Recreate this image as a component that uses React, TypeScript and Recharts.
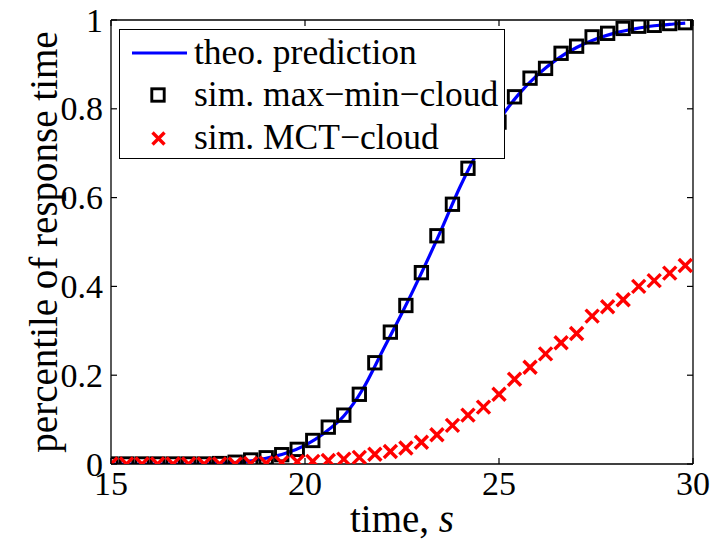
import React from 'react';
import { ComposedChart, Line, Scatter, XAxis, YAxis, Legend } from 'recharts';

const FONT = '"Liberation Serif", "Times New Roman", Times, serif';
const TICK_FS = 34;
const LABEL_FS = 39;
const LEG_FS = 35.5;

const tSim = [15, 15.4, 15.8, 16.2, 16.6, 17, 17.4, 17.8, 18.2, 18.6, 19, 19.4, 19.8, 20.2, 20.6, 21, 21.4, 21.8, 22.2, 22.6, 23, 23.4, 23.8, 24.2, 24.6, 25, 25.4, 25.8, 26.2, 26.6, 27, 27.4, 27.8, 28.2, 28.6, 29, 29.4, 29.8];
const maxMinCloud = [0, 0, 0, 0, 0, 0, 0, 0.001, 0.004, 0.009, 0.014, 0.021, 0.033, 0.053, 0.083, 0.11, 0.157, 0.228, 0.297, 0.357, 0.431, 0.514, 0.585, 0.666, 0.72, 0.77, 0.827, 0.869, 0.891, 0.925, 0.941, 0.962, 0.97, 0.981, 0.986, 0.988, 0.992, 0.994];
const mctCloud = [0, 0, 0, 0, 0, 0, 0, 0, 0, 0.001, 0.002, 0.003, 0.005, 0.006, 0.008, 0.011, 0.015, 0.022, 0.028, 0.036, 0.049, 0.066, 0.087, 0.11, 0.128, 0.157, 0.191, 0.218, 0.248, 0.273, 0.294, 0.333, 0.354, 0.37, 0.4, 0.413, 0.43, 0.447];

const tTheo = [15, 15.5, 16, 16.5, 17, 17.5, 18, 18.5, 19, 19.5, 20, 20.5, 21, 21.5, 22, 22.5, 23, 23.5, 24, 24.5, 25, 25.5, 26, 26.5, 27, 27.5, 28, 28.5, 29, 29.5, 29.8];
const theoPrediction = [0, 0, 0, 0, 0, 0.0005, 0.002, 0.006, 0.013, 0.024, 0.042, 0.07, 0.108, 0.17, 0.255, 0.34, 0.43, 0.525, 0.625, 0.71, 0.775, 0.832, 0.877, 0.912, 0.938, 0.957, 0.971, 0.98, 0.987, 0.991, 0.993];

const xTicks = [15, 20, 25, 30];
const yTicks = [0, 0.2, 0.4, 0.6, 0.8, 1];

const seriesNames = ['theo. prediction', 'sim. max\u2212min\u2212cloud', 'sim. MCT\u2212cloud'];

const theoData = tTheo.map((t, i) => ({ t, p: theoPrediction[i] }));
const maxMinData = tSim.map((t, i) => ({ t, p: maxMinCloud[i] }));
const mctData = tSim.map((t, i) => ({ t, p: mctCloud[i] }));

const AXIS_STROKE = { stroke: '#000', strokeWidth: 1.3 };
const textStyle = (size: number): React.CSSProperties => ({ fontFamily: FONT, fontSize: size });

const BottomTick = (props: any) => {
  const { x, y, payload } = props;
  return (
    <g>
      <line x1={x} y1={y} x2={x} y2={y - 6} stroke="#000" strokeWidth={1.2} />
      <text x={x} y={y + 31} textAnchor="middle" style={textStyle(TICK_FS)} fill="#000">
        {String(payload.value)}
      </text>
    </g>
  );
};

const TopTick = (props: any) => {
  const { x, y } = props;
  return <line x1={x} y1={y} x2={x} y2={y + 6} stroke="#000" strokeWidth={1.2} />;
};

const LeftTick = (props: any) => {
  const { x, y, payload } = props;
  return (
    <g>
      <line x1={x} y1={y} x2={x + 6} y2={y} stroke="#000" strokeWidth={1.2} />
      <text x={x - 8} y={y} dy="0.34em" textAnchor="end" style={textStyle(TICK_FS)} fill="#000">
        {String(payload.value)}
      </text>
    </g>
  );
};

const RightTick = (props: any) => {
  const { x, y } = props;
  return <line x1={x} y1={y} x2={x - 6} y2={y} stroke="#000" strokeWidth={1.2} />;
};

const SquareMark = (props: any) => {
  const { cx, cy } = props;
  if (cx == null || cy == null) return null;
  return <rect x={cx - 6.2} y={cy - 6.2} width={12.4} height={12.4} fill="none" stroke="#000" strokeWidth={2.9} />;
};

const CrossMark = (props: any) => {
  const { cx, cy } = props;
  if (cx == null || cy == null) return null;
  return (
    <g stroke="#ff0000" strokeWidth={3.4}>
      <line x1={cx - 6.5} y1={cy - 6.5} x2={cx + 6.5} y2={cy + 6.5} />
      <line x1={cx - 6.5} y1={cy + 6.5} x2={cx + 6.5} y2={cy - 6.5} />
    </g>
  );
};

const YLabel = (props: any) => {
  const vb = props.viewBox || {};
  const cx = 45;
  const cy = (vb.y || 0) + (vb.height || 0) / 2;
  return (
    <text
      x={cx}
      y={cy}
      transform={`rotate(-90 ${cx} ${cy})`}
      textAnchor="middle"
      dy="0.3em"
      style={textStyle(LABEL_FS)}
      fill="#000"
    >
      percentile of response time
    </text>
  );
};

const XLabel = (props: any) => {
  const vb = props.viewBox || {};
  const cx = (vb.x || 0) + (vb.width || 0) / 2;
  const y = (vb.y || 0) + 68;
  return (
    <text x={cx} y={y} textAnchor="middle" style={textStyle(LABEL_FS)} fill="#000">
      time, <tspan fontStyle="italic">s</tspan>
    </text>
  );
};

const LegendIcon = ({ kind }: { kind: number }) => {
  if (kind === 0) {
    return (
      <svg width={74} height={42} style={{ flex: 'none' }}>
        <line x1={12} y1={21} x2={67} y2={21} stroke="#0000ff" strokeWidth={3} />
      </svg>
    );
  }
  if (kind === 1) {
    return (
      <svg width={74} height={42} style={{ flex: 'none' }}>
        <rect x={31.8} y={14.8} width={12.4} height={12.4} fill="none" stroke="#000" strokeWidth={2.9} />
      </svg>
    );
  }
  return (
    <svg width={74} height={42} style={{ flex: 'none' }}>
      <g stroke="#ff0000" strokeWidth={3.4}>
        <line x1={32.5} y1={15.5} x2={44.5} y2={27.5} />
        <line x1={32.5} y1={27.5} x2={44.5} y2={15.5} />
      </g>
    </svg>
  );
};

const LegendBox = (props: any) => {
  const payload = [...(props.payload || [])];
  payload.sort((a: any, b: any) => seriesNames.indexOf(a.value) - seriesNames.indexOf(b.value));
  return (
    <div
      style={{
        border: '1.2px solid #000',
        background: '#fff',
        width: 386,
        height: 130,
        boxSizing: 'border-box',
        position: 'relative',
        fontFamily: FONT,
        fontSize: LEG_FS,
        color: '#000',
      }}
    >
      {payload.map((it: any, i: number) => (
        <div
          key={i}
          style={{
            position: 'absolute',
            left: 0,
            top: 1.5 + i * 42.5,
            height: 42,
            display: 'flex',
            alignItems: 'center',
            whiteSpace: 'nowrap',
            lineHeight: 1,
            fontFamily: FONT,
          }}
        >
          <LegendIcon kind={seriesNames.indexOf(it.value)} />
          <span style={{ fontFamily: FONT }}>{it.value}</span>
        </div>
      ))}
    </div>
  );
};

export default function App() {
  return (
    <div style={{ position: 'absolute', left: 0, top: 0, width: 712, height: 544, background: '#fff', fontFamily: FONT }}>
      <ComposedChart width={712} height={544} margin={{ top: 15, right: 14, bottom: 0, left: 0 }} style={{ fontFamily: FONT }}>
        <XAxis
          xAxisId={0}
          type="number"
          dataKey="t"
          domain={[15, 30]}
          ticks={xTicks}
          interval={0}
          allowDataOverflow
          height={80}
          tickSize={0}
          tickMargin={0}
          tickLine={false}
          axisLine={AXIS_STROKE}
          tick={<BottomTick />}
          label={<XLabel />}
        />
        <XAxis
          xAxisId="top"
          orientation="top"
          type="number"
          dataKey="t"
          domain={[15, 30]}
          ticks={xTicks}
          interval={0}
          allowDataOverflow
          height={5}
          tickSize={0}
          tickMargin={0}
          tickLine={false}
          axisLine={AXIS_STROKE}
          tick={<TopTick />}
        />
        <YAxis
          yAxisId={0}
          type="number"
          dataKey="p"
          domain={[0, 1]}
          ticks={yTicks}
          interval={0}
          allowDataOverflow
          width={111}
          tickSize={0}
          tickMargin={0}
          tickLine={false}
          axisLine={AXIS_STROKE}
          tick={<LeftTick />}
          label={<YLabel />}
        />
        <YAxis
          yAxisId="right"
          orientation="right"
          type="number"
          dataKey="p"
          domain={[0, 1]}
          ticks={yTicks}
          interval={0}
          allowDataOverflow
          width={5}
          tickSize={0}
          tickMargin={0}
          tickLine={false}
          axisLine={AXIS_STROKE}
          tick={<RightTick />}
        />
        <Scatter
          name={seriesNames[1]}
          data={maxMinData}
          dataKey="p"
          xAxisId={0}
          yAxisId={0}
          shape={<SquareMark />}
          isAnimationActive={false}
        />
        <Line
          name={seriesNames[0]}
          data={theoData}
          dataKey="p"
          xAxisId={0}
          yAxisId={0}
          type="monotone"
          stroke="#0000ff"
          strokeWidth={3.2}
          dot={false}
          activeDot={false}
          isAnimationActive={false}
        />
        <Scatter
          name={seriesNames[2]}
          data={mctData}
          dataKey="p"
          xAxisId={0}
          yAxisId={0}
          shape={<CrossMark />}
          isAnimationActive={false}
        />
        <Legend
          layout="vertical"
          align="center"
          verticalAlign="middle"
          wrapperStyle={{ position: 'absolute', left: 119, top: 29, width: 386, height: 130 }}
          content={<LegendBox />}
        />
      </ComposedChart>
    </div>
  );
}
